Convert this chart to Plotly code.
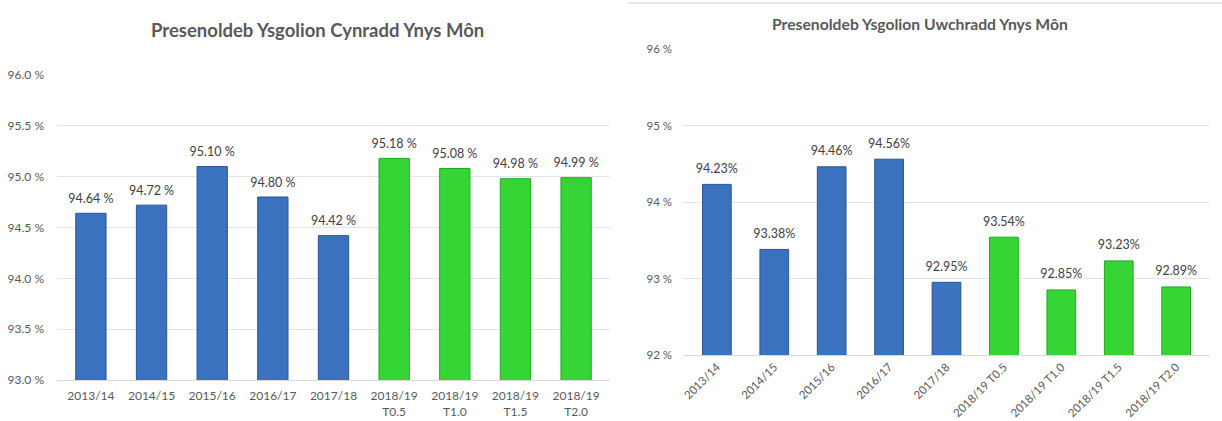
import plotly.graph_objects as go

categories = ["2013/14", "2014/15", "2015/16", "2016/17", "2017/18",
              "2018/19 T0.5", "2018/19 T1.0", "2018/19 T1.5", "2018/19 T2.0"]
left_ticklabels = ["2013/14", "2014/15", "2015/16", "2016/17", "2017/18",
                   "2018/19<br>T0.5", "2018/19<br>T1.0", "2018/19<br>T1.5", "2018/19<br>T2.0"]
primary_values = [94.64, 94.72, 95.10, 94.80, 94.42, 95.18, 95.08, 94.98, 94.99]
secondary_values = [94.23, 93.38, 94.46, 94.56, 92.95, 93.54, 92.85, 93.23, 92.89]
left_title = "Presenoldeb Ysgolion Cynradd Ynys Môn"
right_title = "Presenoldeb Ysgolion Uwchradd Ynys Môn"
left_yticks = [93.0, 93.5, 94.0, 94.5, 95.0, 95.5, 96.0]
right_yticks = [92, 93, 94, 95, 96]

BLUE = "#3a72c0"
BLUE_EDGE = "#2a5596"
GREEN = "#35d535"
GREEN_EDGE = "#22a822"
colors = [BLUE] * 5 + [GREEN] * 4
edges = [BLUE_EDGE] * 5 + [GREEN_EDGE] * 4
FONT = "Lato, Open Sans, sans-serif"
GRAY = "#595959"
W, H = 1222, 421


def py(px):
    """convert a pixel row (from top) to paper fraction"""
    return (H - px) / H


fig = go.Figure()
fig.add_trace(go.Bar(
    x=categories, y=primary_values, xaxis="x", yaxis="y",
    marker=dict(color=colors, line=dict(color=edges, width=1)),
    showlegend=False, hoverinfo="skip"))
fig.add_trace(go.Scatter(
    x=categories, y=primary_values, xaxis="x", yaxis="y", mode="markers+text",
    marker=dict(size=10, color="rgba(0,0,0,0)"),
    text=[f"{v:.2f} %" for v in primary_values], textposition="top center",
    textfont=dict(family=FONT, size=12.5, color="#404040"), cliponaxis=False,
    showlegend=False))
fig.add_trace(go.Bar(
    x=categories, y=secondary_values, xaxis="x2", yaxis="y2",
    marker=dict(color=colors, line=dict(color=edges, width=1)),
    showlegend=False, hoverinfo="skip"))
fig.add_trace(go.Scatter(
    x=categories, y=secondary_values, xaxis="x2", yaxis="y2", mode="markers+text",
    marker=dict(size=12, color="rgba(0,0,0,0)"),
    text=[f"{v:.2f}%" for v in secondary_values], textposition="top center",
    textfont=dict(family=FONT, size=12.5, color="#404040"), cliponaxis=False,
    showlegend=False))

fig.update_layout(
    width=W, height=H, margin=dict(l=0, r=0, t=0, b=0, autoexpand=False),
    paper_bgcolor="white", plot_bgcolor="white", bargap=0.5,
    font=dict(family=FONT, color=GRAY, size=12),
    xaxis=dict(domain=[57 / W, 610 / W], anchor="y", tickmode="array", automargin=False,
               tickvals=categories, ticktext=left_ticklabels, tickangle=0,
               showline=True, linecolor="#d9d9d9", ticks="", ticklabelstandoff=5,
               tickfont=dict(size=12, color=GRAY)),
    yaxis=dict(domain=[py(380), py(75)], anchor="x", range=[93.0, 96.0], automargin=False,
               tickvals=left_yticks, ticktext=[f"{v:.1f} %" for v in left_yticks],
               gridcolor="#e3e3e3", zeroline=False, showline=False, ticks="",
               ticklabelstandoff=12, tickfont=dict(size=12, color=GRAY)),
    xaxis2=dict(domain=[683 / W, 1210 / W], anchor="y2", tickangle=-45, automargin=False,
                showline=True, linecolor="#d9d9d9", ticks="",
                tickfont=dict(size=11.5, color=GRAY)),
    yaxis2=dict(domain=[py(355), py(49)], anchor="x2", range=[92, 96], automargin=False,
                tickvals=right_yticks, ticktext=[f"{v} %" for v in right_yticks],
                gridcolor="#e3e3e3", zeroline=False, showline=False, ticks="",
                ticklabelstandoff=10, tickfont=dict(size=11.5, color=GRAY)),
    annotations=[
        dict(text=f"<b>{left_title}</b>", x=317 / W, y=py(30), xref="paper", yref="paper",
             xanchor="center", yanchor="middle",
             showarrow=False, font=dict(size=18.5, color=GRAY, family=FONT)),
        dict(text=f"<b>{right_title}</b>", x=920 / W, y=py(24), xref="paper", yref="paper",
             xanchor="center", yanchor="middle",
             showarrow=False, font=dict(size=15.7, color=GRAY, family=FONT)),
    ],
    shapes=[dict(type="line", xref="paper", yref="paper", x0=628 / W, x1=1, y0=py(3),
                 y1=py(3), line=dict(color="#d0d0d0", width=1))],
)

fig.write_html("out.html", config={"displayModeBar": False},
               post_script="document.body.style.margin='0';document.body.style.overflow='hidden';")
